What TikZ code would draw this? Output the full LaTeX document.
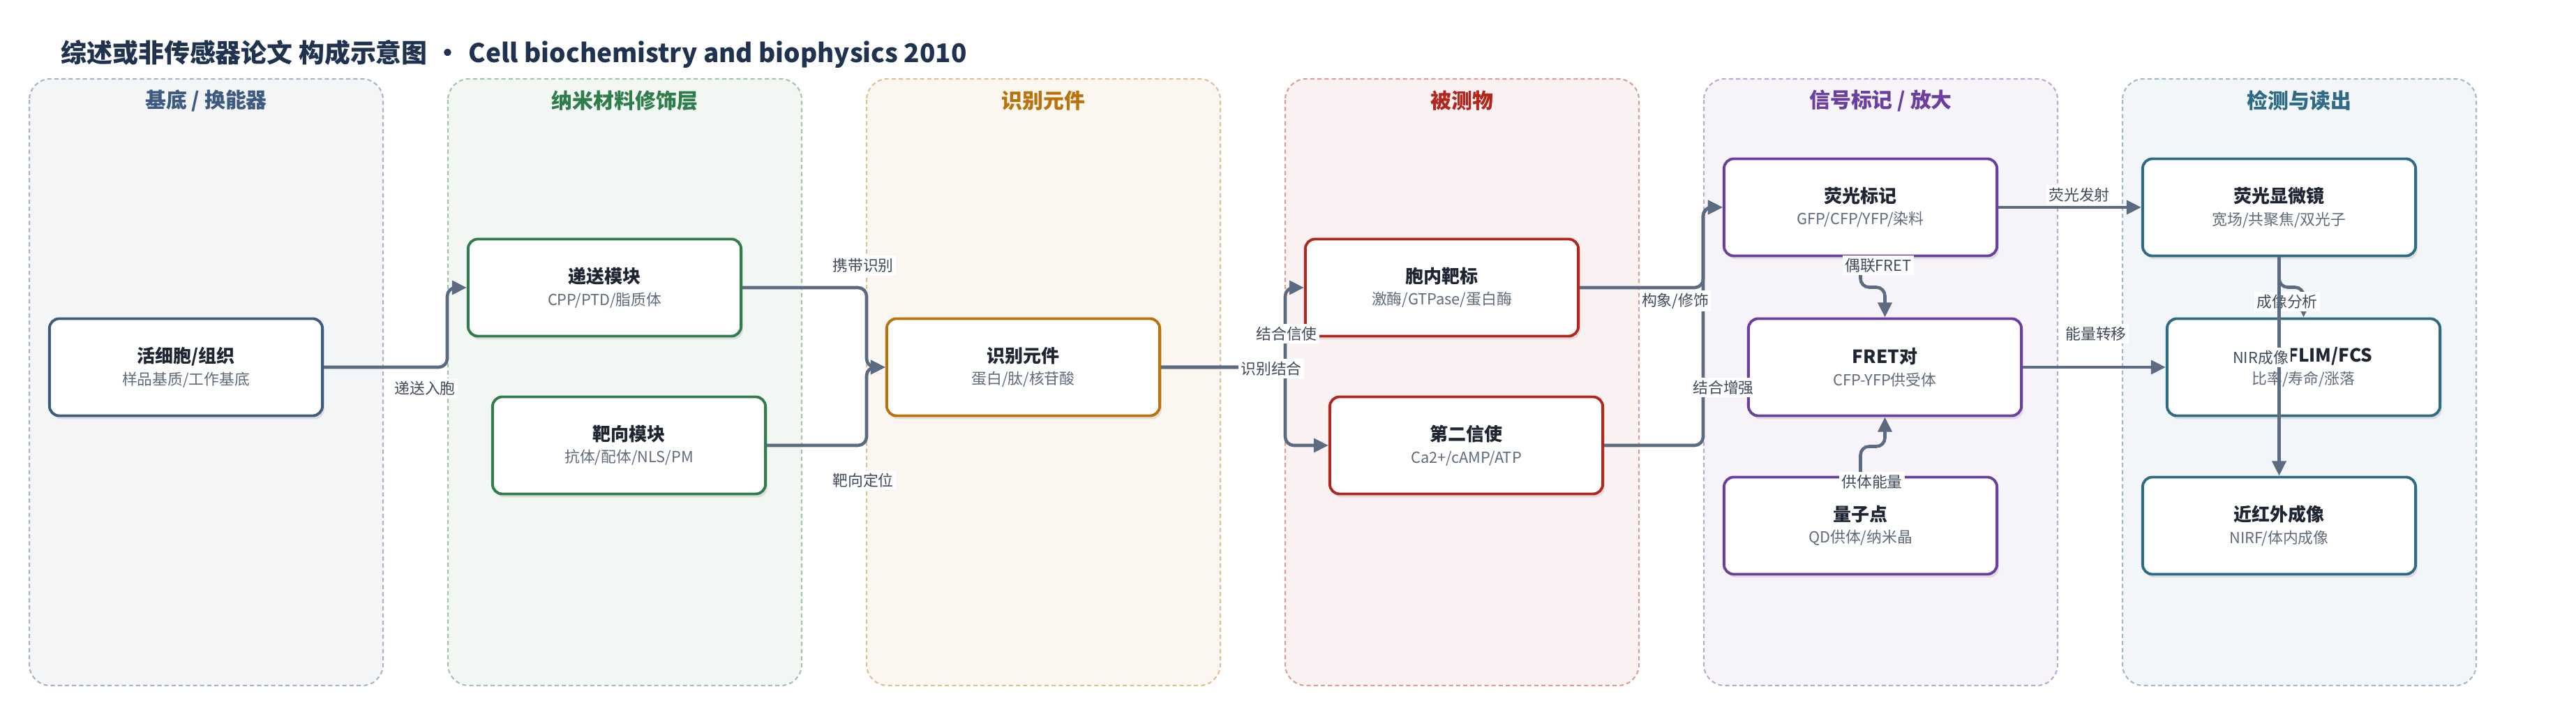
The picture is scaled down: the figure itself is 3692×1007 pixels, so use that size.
\documentclass[tikz,border=0pt]{standalone}
\usepackage{fontspec}
\setmainfont{Noto Sans CJK SC}
\usetikzlibrary{arrows.meta,shadows,calc}

\definecolor{basecol}{HTML}{3D5A80}
\definecolor{nanocol}{HTML}{2E7D4A}
\definecolor{recogcol}{HTML}{B8730A}
\definecolor{analytecol}{HTML}{B3261E}
\definecolor{signalcol}{HTML}{6A3FA0}
\definecolor{readcol}{HTML}{2E6B85}
\definecolor{edgecol}{HTML}{5B6B82}
\definecolor{titlecol}{HTML}{1F3350}
\definecolor{subgray}{HTML}{5F6B7A}
\definecolor{labelgray}{HTML}{3F4A5A}
\definecolor{textdark}{HTML}{1E2533}

\newcommand{\subtxt}[1]{{\fontsize{6.2}{7}\selectfont\color{subgray}#1}}

\begin{document}
\begin{tikzpicture}[
  x = 0.01cm, y = -0.01cm,
  lane/.style = {
    draw = #1!45,
    fill = #1!6,
    dash pattern = on 1.7pt off 1.2pt,
    line width = 0.6pt,
    rounded corners = 0.3cm
  },
  lanehead/.style = {
    text = #1,
    font = \fontsize{8.5}{10}\selectfont\bfseries
  },
  box/.style = {
    draw = #1,
    fill = white,
    line width = 1.1pt,
    rounded corners = 0.14cm,
    minimum width = 3.91cm,
    minimum height = 1.39cm,
    align = center,
    text = textdark,
    font = \fontsize{7.4}{9}\selectfont,
    drop shadow = {shadow xshift = 0.8pt, shadow yshift = -1.4pt, opacity = 0.2}
  },
  edge/.style = {
    draw = edgecol,
    line width = 1.3pt,
    rounded corners = 3.5pt,
    -{Triangle[length = 6pt, width = 5.6pt]}
  },
  elabel/.style = {
    fill = white,
    inner sep = 1pt,
    text = labelgray,
    font = \fontsize{6.2}{7}\selectfont
  }
]
  \useasboundingbox (0, 0) rectangle (3692, 1007);

  \node[anchor = west, text = titlecol, font = \fontsize{10.5}{12}\selectfont\bfseries] (title) at (75, 77)
    {综述或非传感器论文 构成示意图\hspace{0.3em}•\hspace{0.3em}Cell biochemistry and biophysics 2010};

  \foreach \i/\col/\head in {0/basecol/{基底 / 换能器}, 1/nanocol/纳米材料修饰层, 2/recogcol/识别元件,
      3/analytecol/被测物, 4/signalcol/{信号标记 / 放大}, 5/readcol/检测与读出} {
    \draw[lane = \col] (42 + 600*\i, 113) rectangle ++(507, 869);
    \node[lanehead = \col] (head\i) at (295.5 + 600*\i, 144) {\head};
  }

  \node[box = basecol] (cell) at (266.5, 526) {\textbf{活细胞/组织}\\\subtxt{样品基质/工作基底}};

  \node[box = nanocol] (deliver) at (866.5, 412) {\textbf{递送模块}\\\subtxt{CPP/PTD/脂质体}};
  \node[box = nanocol] (target) at (901.5, 638) {\textbf{靶向模块}\\\subtxt{抗体/配体/NLS/PM}};

  \node[box = recogcol] (recog) at (1466.5, 526) {\textbf{识别元件}\\\subtxt{蛋白/肽/核苷酸}};

  \node[box = analytecol] (intra) at (2066.5, 412) {\textbf{胞内靶标}\\\subtxt{激酶/GTPase/蛋白酶}};
  \node[box = analytecol] (second) at (2101.5, 638) {\textbf{第二信使}\\\subtxt{Ca2+/cAMP/ATP}};

  \node[box = signalcol] (fluor) at (2666.5, 297) {\textbf{荧光标记}\\\subtxt{GFP/CFP/YFP/染料}};
  \node[box = signalcol] (fret) at (2701.5, 526) {\textbf{FRET对}\\\subtxt{CFP-YFP供受体}};
  \node[box = signalcol] (qd) at (2666.5, 753) {\textbf{量子点}\\\subtxt{QD供体/纳米晶}};

  \node[box = readcol] (micro) at (3266.5, 297) {\textbf{荧光显微镜}\\\subtxt{宽场/共聚焦/双光子}};
  \node[box = readcol] (nir) at (3301.5, 526) {\textbf{\hspace*{2.9em}FLIM/FCS}\\\subtxt{比率/寿命/涨落}};
  \node[box = readcol] (nirf) at (3266.5, 753) {\textbf{近红外成像}\\\subtxt{NIRF/体内成像}};

  \coordinate (g1) at (641, 0);
  \coordinate (g2) at (1242, 0);
  \coordinate (g3) at (1842, 0);
  \coordinate (g4) at (2441, 0);
  \coordinate (m1) at ($(fluor.south)!.5!(fret.north)$);
  \coordinate (m2) at ($(qd.north)!.5!(fret.south)$);
  \coordinate (m3) at ($(micro.south)!.5!(nir.north)$);

  \draw[edge] (cell.east) -| (g1 |- deliver.west) -- (deliver.west);
  \node[elabel] (l1) at (609, 556) {递送入胞};

  \draw[edge] (deliver.east) -| (g2 |- recog.west) -- (recog.west);
  \draw[edge] (target.east) -| (g2 |- recog.west) -- (recog.west);
  \node[elabel] (l2) at (1237, 380) {携带识别};
  \node[elabel] (l3) at (1237, 688) {靶向定位};

  \draw[edge] (recog.east) -| (g3 |- intra.west) -- (intra.west);
  \draw[edge] (recog.east) -| (g3 |- second.west) -- (second.west);
  \node[elabel] (l4) at (1844, 478) {结合信使};
  \node[elabel] (l5) at (1822, 528) {识别结合};

  \draw[edge] (intra.east) -| (g4 |- fluor.west) -- (fluor.west);
  \draw[edge] (second.east) -| (g4 |- fluor.west) -- (fluor.west);
  \node[elabel] (l6) at (2401, 431) {构象/修饰};
  \node[elabel] (l7) at (2470, 555) {结合增强};

  \draw[edge] (fluor.south) -- (fluor.south |- m1) -| (fret.north);
  \node[elabel] (l8) at (2692, 380) {偶联FRET};
  \draw[edge] (qd.north) -- (qd.north |- m2) -| (fret.south);
  \node[elabel] (l9) at (2683, 690) {供体能量};

  \draw[edge] (fluor.east) -- (micro.west);
  \node[elabel] (l10) at (2980, 279) {荧光发射};
  \draw[edge] (fret.east) -- (nir.west);
  \node[elabel] (l11) at (3004, 478) {能量转移};

  \draw[edge] (micro.south) -- (micro.south |- m3) -| (nir.north);
  \node[elabel] (l12) at (3278, 432) {成像分析};
  \draw[edge] (micro.south) -- (nirf.north);
  \node[elabel] (l13) at (3240, 512) {NIR成像};
\end{tikzpicture}
\end{document}
